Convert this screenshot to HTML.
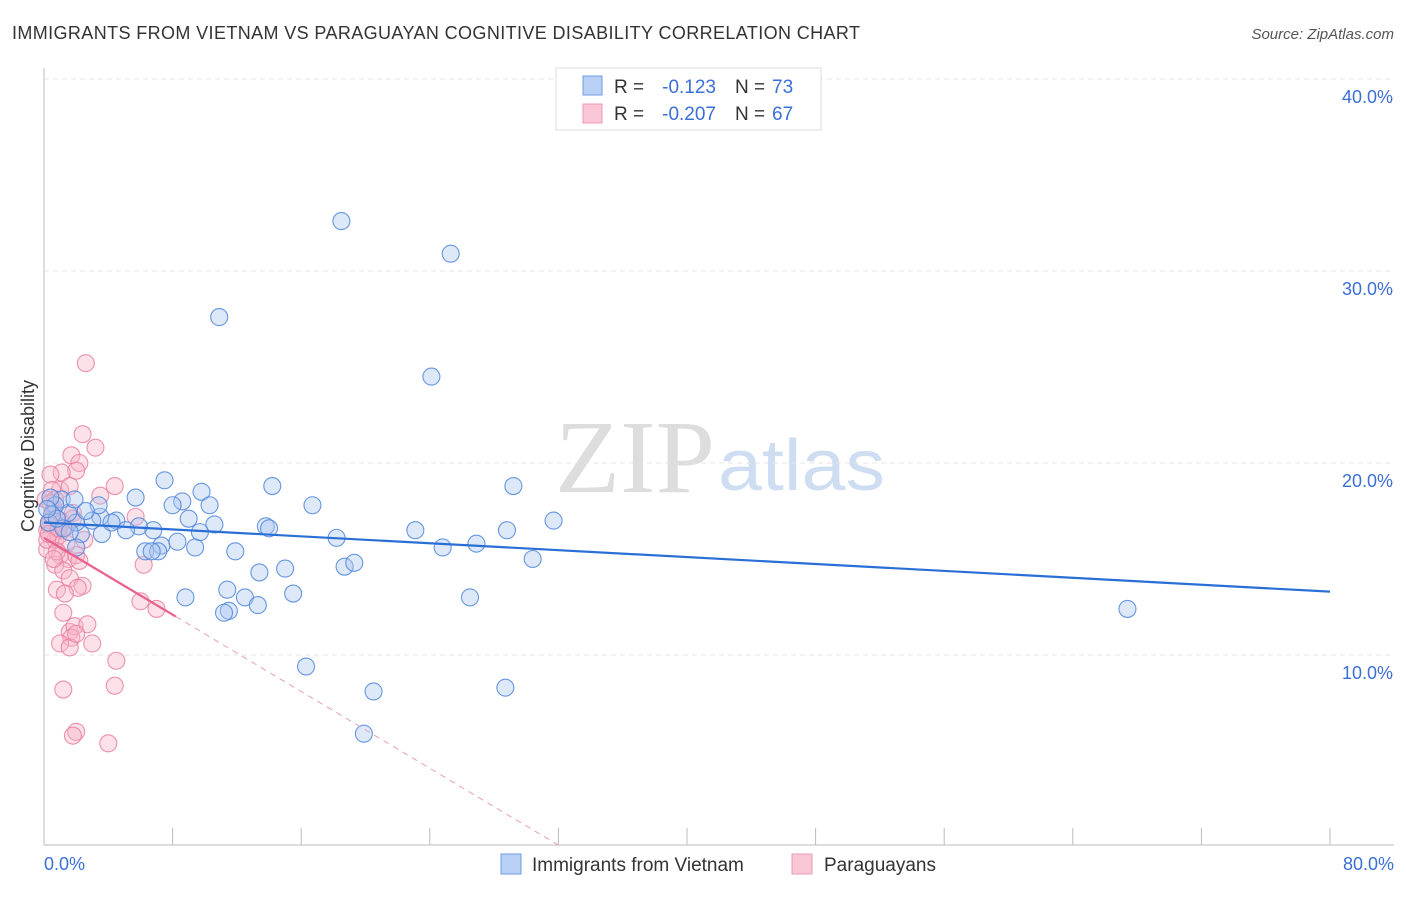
<!DOCTYPE html>
<html><head><meta charset="utf-8"><style>
body{margin:0;background:#fff;font-family:"Liberation Sans",sans-serif}
svg text{font-family:"Liberation Sans",sans-serif}
</style></head><body>
<svg id="c" width="1406" height="892">
<text x="12" y="39" font-size="18" fill="#333" textLength="848">IMMIGRANTS FROM VIETNAM VS PARAGUAYAN COGNITIVE DISABILITY CORRELATION CHART</text>
<text x="1394" y="39" font-size="15" fill="#555" font-style="italic" text-anchor="end">Source: ZipAtlas.com</text>
<text x="555" y="492" font-size="104" fill="#ddd" textLength="160" lengthAdjust="spacingAndGlyphs" style="font-family:'Liberation Serif',serif">ZIP</text>
<text x="718" y="490" font-size="72" fill="#cfddf2" textLength="167" lengthAdjust="spacingAndGlyphs">atlas</text>
<g id="grid"></g><g id="pts"></g><g id="lines"></g>
<text transform="translate(34,456) rotate(-90)" font-size="18" fill="#333" text-anchor="middle">Cognitive Disability</text>
<text x="44" y="870" font-size="18" fill="#3a6fd8">0.0%</text>
<text x="1394" y="870" font-size="18" fill="#3a6fd8" text-anchor="end">80.0%</text>
<g>
<rect x="556" y="68" width="265" height="62" fill="#fff" stroke="#ddd"/>
<rect x="583" y="76" width="19" height="19" fill="#b8d0f4" stroke="#6f9ce6"/>
<rect x="583" y="104" width="19" height="19" fill="#f9c6d6" stroke="#ee98b4"/>
<text x="614" y="93" font-size="19" fill="#333">R =</text>
<text x="716" y="93" font-size="19" fill="#3a6fd8" text-anchor="end">-0.123</text>
<text x="735" y="93" font-size="19" fill="#333">N =</text>
<text x="772" y="93" font-size="19" fill="#3a6fd8">73</text>
<text x="614" y="120" font-size="19" fill="#333">R =</text>
<text x="716" y="120" font-size="19" fill="#3a6fd8" text-anchor="end">-0.207</text>
<text x="735" y="120" font-size="19" fill="#333">N =</text>
<text x="772" y="120" font-size="19" fill="#3a6fd8">67</text>
</g>
<g>
<rect x="501" y="854" width="20" height="20" fill="#b8d0f4" stroke="#6f9ce6"/>
<text x="532" y="871" font-size="19" fill="#333">Immigrants from Vietnam</text>
<rect x="792" y="854" width="20" height="20" fill="#f9c6d6" stroke="#ee98b4"/>
<text x="824" y="871" font-size="19" fill="#333">Paraguayans</text>
</g>
</svg>
<script>
const yTicks=[10,20,30,40];
const xTickVals=[0,8,16,24,32,40,48,56,64,72,80];
const blueX=[18.5,25.3,10.9,24.1,7.5,5.7,8.6,9.8,10.3,14.2,16.7,29.2,31.7,8.0,9.0,10.6,13.8,14.0,18.2,23.1,28.8,26.9,24.8,30.4,6.8,5.9,4.5,3.5,3.0,3.6,5.1,2.3,2.0,1.5,1.1,0.7,0.4,0.5,1.9,3.4,7.3,9.4,8.3,6.3,7.1,6.7,11.9,9.7,2.0,13.4,15.0,18.7,19.3,11.4,8.8,12.5,15.5,26.5,11.5,11.2,13.3,67.4,16.3,20.5,28.7,19.9,0.3,1.2,2.6,4.2,0.8,1.6,0.2];
const blueY=[32.6,30.9,27.6,24.5,19.1,18.2,18.0,18.5,17.8,18.8,17.8,18.8,17.0,17.8,17.1,16.8,16.7,16.6,16.1,16.5,16.5,15.8,15.6,15.0,16.5,16.7,17.0,17.2,17.0,16.3,16.5,16.3,16.9,17.4,18.1,17.8,18.2,17.3,18.1,17.8,15.7,15.6,15.9,15.4,15.4,15.4,15.4,16.4,15.6,14.3,14.5,14.6,14.8,13.4,13.0,13.0,13.2,13.0,12.3,12.2,12.6,12.4,9.4,8.1,8.3,5.9,16.9,16.6,17.5,16.9,17.1,16.4,17.6];
const pinkX=[2.6,2.4,3.2,1.7,2.2,2.0,1.1,0.4,4.4,3.5,1.0,0.5,1.6,0.7,5.7,1.8,1.0,0.4,0.2,1.1,0.7,2.5,0.2,1.0,1.5,2.0,0.7,1.2,6.2,1.6,2.4,0.8,2.1,1.3,6.0,7.0,1.2,1.6,1.9,2.7,1.7,3.0,1.0,1.6,2.0,4.5,4.4,1.2,2.0,1.8,4.0,0.6,0.1,0.3,0.9,1.4,0.5,0.2,1.3,0.8,2.2,0.4,1.1,0.6,0.3,1.8,0.9];
const pinkY=[25.2,21.5,20.8,20.4,20.0,19.6,19.5,19.4,18.8,18.3,18.6,18.6,18.8,18.1,17.2,17.4,17.0,17.0,16.5,16.5,16.0,16.0,15.5,15.2,15.0,15.2,14.7,14.4,14.7,14.0,13.6,13.4,13.5,13.2,12.8,12.4,12.2,11.2,11.5,11.6,10.9,10.6,10.6,10.4,11.1,9.7,8.4,8.2,6.0,5.8,5.4,17.6,18.1,16.8,16.2,15.8,17.3,16.0,16.6,15.4,14.9,17.9,16.9,15.0,16.3,17.1,16.6];
const blueFit=[16.9,13.3];
const pinkFit=[16.1,-0.5],pinkSolidEnd=8.2;
const X=v=>44+v/80*1286, Y=v=>847-v*19.2;
const ns="http://www.w3.org/2000/svg";
function mk(t,a,p){const e=document.createElementNS(ns,t);for(const k in a)e.setAttribute(k,a[k]);p.appendChild(e);return e;}
const g=document.getElementById('grid');
const ax=mk('line',{x1:44,y1:68,x2:44,y2:845,stroke:'#bbb'},g);


const bx=mk('line',{x1:44,y1:845,x2:1394,y2:845,stroke:'#bbb'},g);


yTicks.forEach(t=>{
 const l=mk('line',{x1:44,y1:Y(t),x2:1394,y2:Y(t),stroke:'#e4e4e4','stroke-dasharray':'5,4'},g);
 
 
 const tx=mk('text',{x:1393,y:Y(t)+24,'font-size':18,fill:'#3a6fd8','text-anchor':'end'},g);
 tx.textContent=t.toFixed(1)+'%';
 
 
});
xTickVals.forEach(t=>{
 const l=mk('line',{x1:X(t),y1:828,x2:X(t),y2:845,stroke:'#bbb'},g);
 
 
});
const p=document.getElementById('pts');
function dots(xs,ys,fill,stroke,name){xs.forEach((x,i)=>{
 const c=mk('circle',{cx:X(x),cy:Y(ys[i]),r:8.5,fill:fill,'fill-opacity':0.4,stroke:stroke,'stroke-width':1.1,'stroke-opacity':0.85},p);
 
 
});}
dots(pinkX,pinkY,'#f7b3c8','#e9809f','paraguayan-point');
dots(blueX,blueY,'#a9c6f0','#4f86dc','vietnam-point');
const L=document.getElementById('lines');
const b=mk('line',{x1:X(0),y1:Y(blueFit[0]),x2:X(80),y2:Y(blueFit[1]),stroke:'#2a6fd6','stroke-width':2.2},L);


const pf=x=>pinkFit[0]+pinkFit[1]*x, zero=-pinkFit[0]/pinkFit[1];
const ps=mk('line',{x1:X(0),y1:Y(pf(0)),x2:X(pinkSolidEnd),y2:Y(pf(pinkSolidEnd)),stroke:'#e8628d','stroke-width':2.2},L);


const pd=mk('line',{x1:X(pinkSolidEnd),y1:Y(pf(pinkSolidEnd)),x2:X(zero),y2:Y(0),stroke:'#e8a0b6','stroke-width':1,'stroke-dasharray':'6,5'},L);


</script>
</body></html>
